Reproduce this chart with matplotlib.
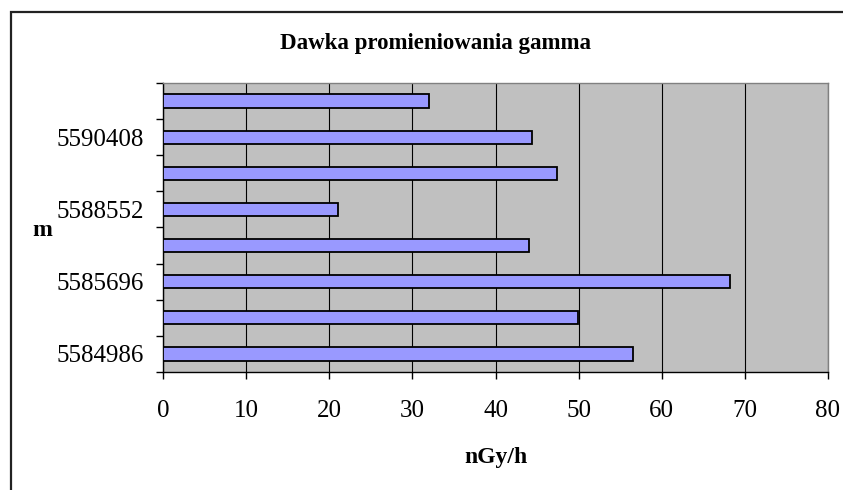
"""Dawka promieniowania gamma - wykres słupkowy poziomy (styl Excel)."""
import matplotlib

matplotlib.use("Agg")
import matplotlib.pyplot as plt
from matplotlib.patches import Rectangle

plt.rcParams["font.family"] = ["Liberation Serif", "DejaVu Serif"]

# kategorie (od dołu); co druga bez etykiety, jak w oryginale
categories = ["5584986", "", "5585696", "", "5588552", "", "5590408", ""]
dose = [56.5, 49.9, 68.2, 44.0, 21.0, 47.4, 44.4, 32.0]
xticks = [0, 10, 20, 30, 40, 50, 60, 70, 80]

BAR = "#9999FF"
PLOT_BG = "#C0C0C0"

fig = plt.figure(figsize=(8.43, 4.90), dpi=100)
fig.patch.set_facecolor("white")
ax = fig.add_axes([163 / 843, 1 - 372 / 490, 665 / 843, 289 / 490])
ax.set_facecolor(PLOT_BG)

pos = list(range(len(dose)))
ax.barh(pos, dose, height=0.37, color=BAR, edgecolor="black",
        linewidth=1.3, zorder=3)

ax.set_xlim(0, 80)
ax.set_ylim(-0.5, len(dose) - 0.5)
ax.set_xticks(xticks)
ax.set_xticklabels([str(v) for v in xticks])
ax.xaxis.grid(True, color="black", linewidth=0.8, zorder=1)

# ticki na granicach kategorii, etykiety na środkach
ax.set_yticks([p - 0.5 for p in pos] + [len(dose) - 0.5])
ax.set_yticklabels([])
ax.set_yticks(pos, minor=True)
ax.set_yticklabels(categories, minor=True)
ax.tick_params(axis="y", which="major", direction="out", length=5, width=1)
ax.tick_params(axis="y", which="minor", length=0, pad=13.5, labelsize=18)
ax.tick_params(axis="x", direction="out", length=5, width=1, pad=15,
               labelsize=18)

for side in ("left", "bottom"):
    ax.spines[side].set_color("black")
    ax.spines[side].set_linewidth(1.0)
for side in ("top", "right"):
    ax.spines[side].set_color("#808080")
    ax.spines[side].set_linewidth(1.0)

# tytuły
fig.text(435 / 843, 1 - 43 / 490, "Dawka promieniowania gamma",
         ha="center", va="center", fontsize=16.5, fontweight="bold")
fig.text(496 / 843, 1 - 457 / 490, "nGy/h",
         ha="center", va="center", fontsize=17, fontweight="bold")
fig.text(42 / 843, 1 - 231 / 490, "m",
         ha="center", va="center", fontsize=17, fontweight="bold")

# ramka obszaru wykresu (wychodzi poza prawą i dolną krawędź)
fig.patches.append(Rectangle((11 / 843, -0.1), 1.0, 1.1 - 12 / 490,
                             transform=fig.transFigure, fill=False,
                             edgecolor="#222222", linewidth=1.6))

fig.savefig("out.png", dpi=100, facecolor="white")
